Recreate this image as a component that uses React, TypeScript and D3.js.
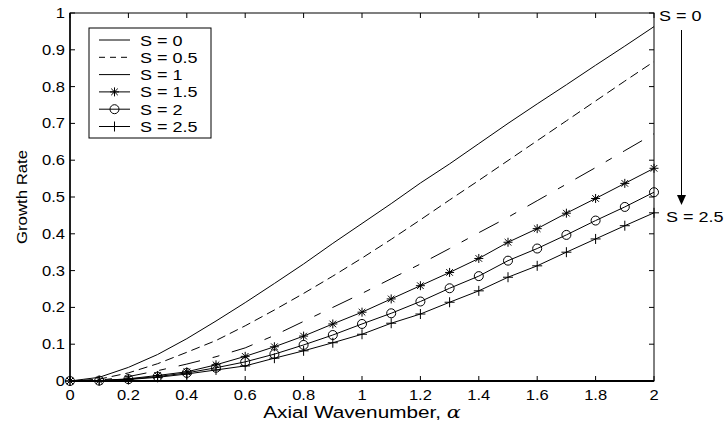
import React from "react";
import * as d3 from "d3";

const alphas = [0, 0.1, 0.2, 0.3, 0.4, 0.5, 0.6, 0.7, 0.8, 0.9, 1.0, 1.1, 1.2, 1.3, 1.4, 1.5, 1.6, 1.7, 1.8, 1.9, 2.0];

const s0 = [0, 0.01, 0.037, 0.072, 0.115, 0.163, 0.213, 0.265, 0.318, 0.374, 0.428, 0.482, 0.538, 0.59, 0.645, 0.7, 0.753, 0.805, 0.858, 0.91, 0.963];
const s05 = [0, 0.005, 0.022, 0.047, 0.078, 0.11, 0.15, 0.193, 0.238, 0.285, 0.334, 0.385, 0.438, 0.492, 0.545, 0.599, 0.653, 0.707, 0.761, 0.815, 0.868];
const s1 = [0, 0.002, 0.012, 0.028, 0.046, 0.066, 0.09, 0.124, 0.162, 0.2, 0.238, 0.278, 0.318, 0.36, 0.403, 0.445, 0.49, 0.535, 0.58, 0.626, 0.672];
const s15 = [0, 0.001, 0.006, 0.015, 0.025, 0.044, 0.067, 0.093, 0.122, 0.155, 0.187, 0.223, 0.259, 0.295, 0.333, 0.377, 0.414, 0.456, 0.496, 0.537, 0.578];
const s2 = [0, 0.001, 0.005, 0.012, 0.022, 0.036, 0.052, 0.073, 0.098, 0.125, 0.155, 0.184, 0.216, 0.252, 0.285, 0.327, 0.36, 0.397, 0.436, 0.473, 0.513];
const s25 = [0, 0.001, 0.004, 0.01, 0.019, 0.03, 0.041, 0.062, 0.082, 0.104, 0.127, 0.157, 0.182, 0.214, 0.245, 0.282, 0.313, 0.35, 0.386, 0.422, 0.457];

const seriesLabels = ["S = 0", "S = 0.5", "S = 1", "S = 1.5", "S = 2", "S = 2.5"];
const seriesValues = [s0, s05, s1, s15, s2, s25];
const seriesDash = ["none", "9,5", "22,13,7,13", "none", "none", "none"];
const seriesMarker = ["none", "none", "none", "star", "circle", "plus"];

const xTicks = [0, 0.2, 0.4, 0.6, 0.8, 1, 1.2, 1.4, 1.6, 1.8, 2];
const yTicks = [0, 0.1, 0.2, 0.3, 0.4, 0.5, 0.6, 0.7, 0.8, 0.9, 1];

const FONT = "'Liberation Sans', Arial, sans-serif";

function Marker({ type, x, y }: { type: string; x: number; y: number }) {
  if (type === "circle") return <circle cx={x} cy={y} r={4.5} fill="none" stroke="#000" strokeWidth={1} />;
  if (type === "plus")
    return (
      <path d={`M${x - 5},${y}H${x + 5}M${x},${y - 5}V${y + 5}`} stroke="#000" strokeWidth={1} fill="none" />
    );
  if (type === "star") {
    const r = 4.5, d = 3.3;
    return (
      <path
        d={`M${x - r},${y}H${x + r}M${x},${y - r}V${y + r}M${x - d},${y - d}L${x + d},${y + d}M${x - d},${y + d}L${x + d},${y - d}`}
        stroke="#000"
        strokeWidth={1}
        fill="none"
      />
    );
  }
  return null;
}

function T({ x, y, sx = 1.18, size = 14, anchor = "start", children }: any) {
  return (
    <g transform={`translate(${x},${y}) scale(${sx},1)`}>
      <text x={0} y={0} fontSize={size} textAnchor={anchor}>
        {children}
      </text>
    </g>
  );
}

export default function App() {
  const W = 724, H = 429;
  const left = 70, right = 654, top = 13, bottom = 381;
  const x = d3.scaleLinear().domain([0, 2]).range([left, right]);
  const y = d3.scaleLinear().domain([0, 1]).range([bottom, top]);
  const line = d3.line<number>().x((_, i) => x(alphas[i])).y((v) => y(v));
  const tl = 5;

  const legX = 89, legY = 28, legW = 122, legH = 110, rowH = 17.3;

  return (
    <svg width={W} height={H} style={{ position: "absolute", left: 0, top: 0, background: "#fff" }} fontFamily={FONT}>
      <rect width={W} height={H} fill="#fff" />
      {seriesValues.map((vals, k) => (
        <g key={k}>
          <path d={line(vals) || ""} fill="none" stroke="#000" strokeWidth={1} strokeDasharray={seriesDash[k]} />
          {seriesMarker[k] !== "none" &&
            vals.map((v, i) => <Marker key={i} type={seriesMarker[k]} x={x(alphas[i])} y={y(v)} />)}
        </g>
      ))}
      <rect x={left} y={top} width={right - left} height={bottom - top} fill="none" stroke="#000" strokeWidth={1} />
      <line x1={left} x2={right} y1={bottom} y2={bottom} stroke="#000" strokeWidth={2} />
      <line x1={left} x2={left} y1={top} y2={bottom} stroke="#000" strokeWidth={1.5} />
      {xTicks.map((t) => (
        <g key={"x" + t}>
          <line x1={x(t)} x2={x(t)} y1={bottom} y2={bottom - tl} stroke="#000" />
          <line x1={x(t)} x2={x(t)} y1={top} y2={top + tl} stroke="#000" />
          <T x={x(t)} y={bottom + 18.5} anchor="middle">
            {String(t)}
          </T>
        </g>
      ))}
      {yTicks.map((t) => (
        <g key={"y" + t}>
          <line x1={left} x2={left + tl} y1={y(t)} y2={y(t)} stroke="#000" />
          <line x1={right} x2={right - tl} y1={y(t)} y2={y(t)} stroke="#000" />
          <T x={left - 5} y={y(t) + 5} anchor="end">
            {String(t)}
          </T>
        </g>
      ))}
      <T x={(left + right) / 2} y={418} size={17} sx={1.22} anchor="middle">
        Axial Wavenumber, <tspan fontFamily="'DejaVu Serif', serif" fontStyle="italic">α</tspan>
      </T>
      <g transform={`translate(27,${(top + bottom) / 2}) rotate(-90)`}>
        <T x={0} y={0} size={15} sx={1.12} anchor="middle">
          Growth Rate
        </T>
      </g>
      <rect x={legX} y={legY} width={legW} height={legH} fill="#fff" stroke="#000" strokeWidth={1} />
      {seriesLabels.map((lab, k) => {
        const cy = legY + 12 + k * rowH;
        return (
          <g key={lab}>
            <line x1={99} x2={130} y1={cy} y2={cy} stroke="#000" strokeDasharray={k === 1 ? "6,5" : "none"} />
            {seriesMarker[k] !== "none" && <Marker type={seriesMarker[k]} x={114.5} y={cy} />}
            <T x={140} y={cy + 5.5} size={15} sx={1.2}>
              {lab}
            </T>
          </g>
        );
      })}
      <T x={659} y={20.5} size={15} sx={1.2}>S = 0</T>
      <line x1={681.5} x2={681.5} y1={30} y2={196} stroke="#000" strokeWidth={1} />
      <path d="M677,195L686,195L681.5,205Z" fill="#000" />
      <T x={666} y={222} size={15} sx={1.2}>S = 2.5</T>
    </svg>
  );
}
